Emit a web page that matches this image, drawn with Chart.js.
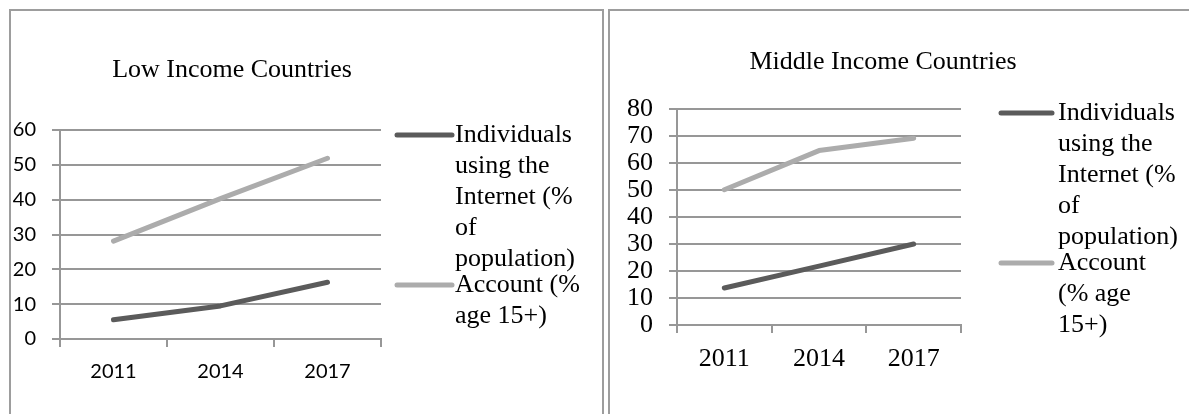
<!DOCTYPE html>
<html>
<head>
<meta charset="utf-8">
<title>Internet use and account ownership</title>
<script src="https://cdn.jsdelivr.net/npm/chart.js@4/dist/chart.umd.min.js"></script>
<style>
  html, body { margin: 0; padding: 0; background: #ffffff; width: 1189px; height: 414px; overflow: hidden; }
  .frame { position: absolute; top: 9px; height: 430px; border: 2px solid #9d9d9d; box-sizing: border-box; }
  #lowFrame { left: 9px; width: 595px; }
  #middleFrame { left: 608px; width: 620px; }
  .panel { position: absolute; top: 0; }
  #lowPanel { left: 0; }
  #middlePanel { left: 600px; }
</style>
</head>
<body>
<div class="frame" id="lowFrame"></div>
<div class="frame" id="middleFrame"></div>
<div class="panel" id="lowPanel"><canvas id="lowChart" width="600" height="414"></canvas></div>
<div class="panel" id="middlePanel"><canvas id="middleChart" width="589" height="414"></canvas></div>
<script>
// Survey years on the category axis
const years = ['2011', '2014', '2017'];

// Low income countries (%)
const lowInternet = [5.5, 9.5, 16.3];
const lowAccount = [28.1, 40.3, 51.9];

// Middle income countries (%)
const middleInternet = [13.7, 21.8, 30.0];
const middleAccount = [50.1, 64.6, 69.2];

// Value axis ranges and tick spacing
const lowAxisMax = 60;
const middleAxisMax = 80;
const tickStep = 10;

// Series and panel titles
const seriesNames = ['Individuals using the Internet (% of population)', 'Account (% age 15+)'];
const panelTitles = ['Low Income Countries', 'Middle Income Countries'];

const DARK = '#5b5b5b';
const LIGHT = '#acacac';
const GRID = '#979797';
const SERIF = 'Liberation Serif';

// Greedy word wrap for legend labels
function wrapWords(ctx, text, maxWidth) {
  const words = text.split(' ');
  const lines = [];
  let cur = '';
  words.forEach(w => {
    const test = cur ? cur + ' ' + w : w;
    if (cur && ctx.measureText(test).width > maxWidth) {
      lines.push(cur);
      cur = w;
    } else {
      cur = test;
    }
  });
  if (cur) lines.push(cur);
  return lines;
}

// Title drawn at a fixed spot above the plot
const panelTitle = {
  id: 'panelTitle',
  afterDraw(chart, args, opts) {
    const ctx = chart.ctx;
    ctx.save();
    ctx.font = opts.size + 'px "' + SERIF + '"';
    ctx.fillStyle = '#000';
    ctx.textAlign = 'center';
    ctx.textBaseline = 'middle';
    ctx.fillText(opts.text, opts.x, opts.y);
    ctx.restore();
  }
};

// Legend to the right of the plot, labels wrapped over several lines
const sideLegend = {
  id: 'sideLegend',
  afterDraw(chart, args, opts) {
    const ctx = chart.ctx;
    ctx.save();
    ctx.font = opts.size + 'px "' + SERIF + '"';
    ctx.textAlign = 'left';
    ctx.textBaseline = 'middle';
    let y = chart.chartArea.top + opts.offsetY;
    chart.data.datasets.forEach(ds => {
      const lines = wrapWords(ctx, ds.label, opts.maxWidth);
      ctx.strokeStyle = ds.borderColor;
      ctx.lineWidth = ds.borderWidth;
      ctx.lineCap = 'round';
      ctx.beginPath();
      ctx.moveTo(opts.x + 2, y);
      ctx.lineTo(opts.x + opts.markerLength, y);
      ctx.stroke();
      ctx.fillStyle = '#000';
      lines.forEach((ln, i) => {
        ctx.fillText(ln, opts.x + opts.markerLength + opts.gap, y + i * opts.lineHeight);
      });
      y += lines.length * opts.lineHeight - opts.overlap;
    });
    ctx.restore();
  }
};

function series(label, data, color) {
  return {
    label: label,
    data: data,
    borderColor: color,
    backgroundColor: color,
    borderWidth: 5,
    pointRadius: 0,
    tension: 0,
    fill: false,
    borderCapStyle: 'round',
    borderJoinStyle: 'round'
  };
}

function buildChart(canvasId, cfg) {
  return new Chart(document.getElementById(canvasId), {
    type: 'line',
    data: {
      labels: years,
      datasets: [
        series(seriesNames[0], cfg.internet, DARK),
        series(seriesNames[1], cfg.account, LIGHT)
      ]
    },
    options: {
      responsive: false,
      animation: false,
      events: [],
      layout: { padding: { top: cfg.top, right: cfg.right, bottom: 0, left: 0 } },
      plugins: {
        legend: { display: false },
        tooltip: { enabled: false },
        panelTitle: { text: cfg.title, x: cfg.titleX, y: cfg.titleY, size: 26 },
        sideLegend: {
          x: cfg.legendX, offsetY: cfg.legendOffsetY, size: 26, maxWidth: cfg.legendWrap,
          markerLength: cfg.markerLength, gap: cfg.legendGap, lineHeight: 31, overlap: 5
        }
      },
      scales: {
        x: {
          offset: true,
          grid: { offset: true, drawOnChartArea: false, drawTicks: true, tickLength: 8, color: GRID, lineWidth: 2 },
          border: { display: true, color: GRID, width: 2 },
          ticks: { font: cfg.tickFont, color: '#000', padding: cfg.xPad, maxRotation: 0, autoSkip: false },
          afterFit(scale) { scale.height = cfg.xHeight; }
        },
        y: {
          min: 0,
          max: cfg.max,
          grid: { color: GRID, lineWidth: 2, drawTicks: true, tickLength: 8 },
          border: { display: true, color: GRID, width: 2 },
          ticks: { stepSize: tickStep, font: cfg.tickFont, color: '#000', padding: 16, autoSkip: false },
          afterFit(scale) { scale.width = cfg.yWidth; }
        }
      }
    },
    plugins: [panelTitle, sideLegend]
  });
}

buildChart('lowChart', {
  internet: lowInternet, account: lowAccount, max: lowAxisMax, title: panelTitles[0],
  top: 130, right: 219, xHeight: 75, yWidth: 60, xPad: 13,
  tickFont: { family: 'Lato', size: 20 },
  titleX: 232, titleY: 70,
  legendX: 395, legendOffsetY: 5, legendWrap: 130, markerLength: 57, legendGap: 3
});

buildChart('middleChart', {
  internet: middleInternet, account: middleAccount, max: middleAxisMax, title: panelTitles[1],
  top: 109, right: 228, xHeight: 89, yWidth: 77, xPad: 11,
  tickFont: { family: SERIF, size: 26 },
  titleX: 283, titleY: 62,
  legendX: 399, legendOffsetY: 4, legendWrap: 120, markerLength: 53, legendGap: 6
});
</script>
</body>
</html>
